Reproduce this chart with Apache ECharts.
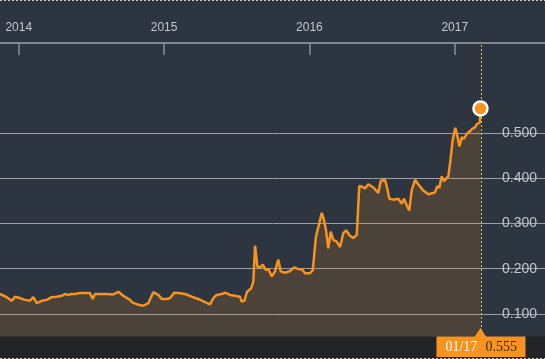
<!DOCTYPE html>
<html>
<head>
<meta charset="utf-8">
<script src="https://cdn.jsdelivr.net/npm/echarts@6/dist/echarts.min.js"></script>
<style>
html,body{margin:0;padding:0;background:#2c3540;}
#chart{width:545px;height:359px;}
</style>
</head>
<body>
<div id="chart"></div>
<script>
// Dates as decimal years
const dates = [
 2013.871, 2013.917, 2013.952, 2013.974, 2014.009, 2014.043, 2014.077, 2014.100, 2014.124, 2014.158, 2014.192, 2014.227, 2014.261, 2014.296, 2014.318, 2014.341, 2014.364, 2014.387, 2014.422, 2014.490, 2014.509, 2014.525, 2014.605, 2014.651, 2014.685, 2014.719, 2014.766,
 2014.777, 2014.823, 2014.857, 2014.892, 2014.926, 2014.960, 2014.984, 2015.018, 2015.041, 2015.070, 2015.098, 2015.144, 2015.190, 2015.236, 2015.282, 2015.316, 2015.339, 2015.362, 2015.397, 2015.419, 2015.454, 2015.488, 2015.522, 2015.534, 2015.552, 2015.571, 2015.598, 2015.614, 2015.626,
 2015.642, 2015.660, 2015.679, 2015.701, 2015.717, 2015.741, 2015.763, 2015.786, 2015.803, 2015.832, 2015.867, 2015.894, 2015.924, 2015.947, 2015.970, 2016.004, 2016.023, 2016.045, 2016.068, 2016.085, 2016.100, 2016.114, 2016.130, 2016.147, 2016.164, 2016.188, 2016.211, 2016.233, 2016.252, 2016.279, 2016.302, 2016.326,
 2016.343, 2016.360, 2016.383, 2016.405, 2016.440, 2016.474, 2016.491, 2016.520, 2016.536, 2016.550, 2016.577, 2016.612, 2016.635, 2016.651, 2016.670, 2016.687, 2016.704, 2016.727, 2016.749, 2016.784, 2016.818, 2016.864, 2016.880, 2016.894, 2016.910, 2016.926, 2016.956, 2016.968, 2016.986, 2017.004, 2017.018, 2017.032, 2017.048, 2017.064, 2017.082, 2017.105, 2017.124, 2017.140, 2017.151, 2017.162, 2017.172, 2017.177
];
const prices = [
 0.144, 0.137, 0.129, 0.138, 0.135, 0.131, 0.129, 0.137, 0.124, 0.129, 0.131, 0.137, 0.138, 0.140, 0.144, 0.142, 0.144, 0.144, 0.146, 0.146, 0.133, 0.144, 0.144, 0.143, 0.149, 0.140, 0.131,
 0.126, 0.120, 0.118, 0.124, 0.148, 0.142, 0.133, 0.133, 0.135, 0.147, 0.146, 0.144, 0.138, 0.133, 0.126, 0.121, 0.135, 0.142, 0.144, 0.147, 0.142, 0.140, 0.138, 0.127, 0.129, 0.149, 0.156, 0.171, 0.251,
 0.205, 0.203, 0.209, 0.197, 0.200, 0.183, 0.194, 0.220, 0.194, 0.191, 0.195, 0.203, 0.199, 0.199, 0.190, 0.190, 0.197, 0.271, 0.301, 0.324, 0.308, 0.286, 0.245, 0.282, 0.264, 0.260, 0.248, 0.279, 0.285, 0.273, 0.268, 0.275,
 0.383, 0.382, 0.378, 0.387, 0.380, 0.368, 0.395, 0.397, 0.377, 0.355, 0.353, 0.355, 0.344, 0.355, 0.340, 0.329, 0.374, 0.397, 0.387, 0.373, 0.365, 0.369, 0.383, 0.379, 0.405, 0.394, 0.405, 0.434, 0.486, 0.512, 0.494, 0.471, 0.491, 0.488, 0.498, 0.505, 0.511, 0.513, 0.520, 0.518, 0.524, 0.555
];
const yearTicks = [2014, 2015, 2016, 2017];
const yTickLabels = ['0.100', '0.200', '0.300', '0.400', '0.500'];
const lastLabelDate = '01/17';
const lastLabelValue = '0.555';

const lastT = dates[dates.length - 1];
const lastV = prices[prices.length - 1];
const seriesData = dates.map((d, i) => [d, prices[i]]);

const chart = echarts.init(document.getElementById('chart'), null, {renderer: 'canvas'});
const grayLine = '#9b9fa4';
chart.setOption({
  backgroundColor: '#2c3540',
  animation: false,
  grid: {left: 0, right: 0, top: 43, bottom: 0},
  xAxis: {
    type: 'value', position: 'top',
    min: 2013.871, max: 2017.621,
    axisLine: {show: true, onZero: false, lineStyle: {color: '#7f8790', width: 2}},
    axisTick: {show: true, inside: true, length: 12, customValues: yearTicks, lineStyle: {color: '#8a9097', width: 1.5}},
    axisLabel: {customValues: yearTicks, formatter: v => String(Math.round(v)), color: '#c3c7cb', fontSize: 12, fontFamily: 'Liberation Sans, Arial, sans-serif', margin: 9},
    splitLine: {show: false}
  },
  yAxis: {
    type: 'value', position: 'right',
    min: 0, max: 0.7, interval: 0.1,
    axisLine: {show: false}, axisTick: {show: false},
    axisLabel: {
      inside: true, margin: 8, color: '#c3c7cb', fontSize: 14,
      fontFamily: 'Liberation Sans, Arial, sans-serif',
      verticalAlign: 'middle', padding: [0, 0, 26, 0],
      formatter: v => { const r = Math.round(v * 10); return (r >= 1 && r <= 5) ? yTickLabels[r - 1] : ''; }
    },
    splitLine: {show: true, lineStyle: {width: 1, color: ['rgba(0,0,0,0)', grayLine, grayLine, grayLine, grayLine, grayLine, 'rgba(0,0,0,0)', 'rgba(0,0,0,0)']}}
  },
  series: [
    {
      type: 'line', data: seriesData, showSymbol: false, symbol: 'none',
      lineStyle: {color: '#f7931e', width: 2.5},
      areaStyle: {color: 'rgba(247,148,29,0.22)'},
      z: 3,
      markLine: {
        silent: true, symbol: 'none', label: {show: false},
        lineStyle: {color: '#f2c04a', type: [2, 2], width: 1},
        data: [{xAxis: lastT}]
      }
    },
    {
      type: 'scatter', data: [[lastT, lastV]], symbol: 'circle', symbolSize: 14,
      itemStyle: {color: '#f7931e', borderColor: '#ffffff', borderWidth: 2.5, opacity: 1},
      z: 5
    }
  ]
});

const px = chart.convertToPixel({xAxisIndex: 0}, lastT);
chart.setOption({
  graphic: [
    {type: 'rect', z: 100, shape: {x: 0, y: 336.5, width: 545, height: 22}, style: {fill: '#222427'}},
    {type: 'polygon', z: 101, shape: {points: [[px - 6, 337], [px, 328], [px + 6, 337]]}, style: {fill: '#f7931e'}},
    {type: 'rect', z: 101, shape: {x: px - 44, y: 336.5, width: 89, height: 20.5}, style: {fill: '#f7931e'}},
    {type: 'text', z: 102, x: px - 35, y: 347, style: {text: lastLabelDate, fill: '#ffffff', font: '14px "Liberation Serif", "DejaVu Serif", serif', verticalAlign: 'middle', align: 'left'}},
    {type: 'text', z: 102, x: px + 5, y: 347, style: {text: lastLabelValue, fill: '#3a2a12', font: '14px "Liberation Serif", "DejaVu Serif", serif', verticalAlign: 'middle', align: 'left'}},
    {type: 'line', z: 103, shape: {x1: 0, y1: 0.5, x2: 545, y2: 0.5}, style: {stroke: '#d6cfb4', lineWidth: 1, lineDash: [2, 2]}},
    {type: 'line', z: 103, shape: {x1: 0, y1: 358.5, x2: 545, y2: 358.5}, style: {stroke: '#d6cfb4', lineWidth: 1, lineDash: [2, 2]}}
  ]
});
</script>
</body>
</html>
